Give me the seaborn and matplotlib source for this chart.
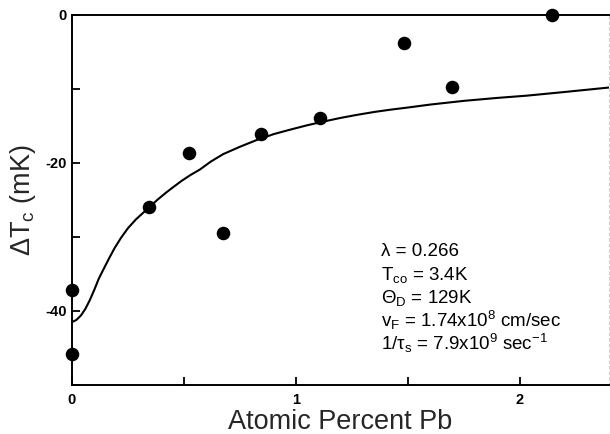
import matplotlib
matplotlib.use("Agg")
import matplotlib.pyplot as plt
import seaborn as sns
import pandas as pd

# Measured data points
pb_percent = [0.0, 0.0, 0.345, 0.524, 0.675, 0.845, 1.107, 1.484, 1.695, 2.143]
delta_tc = [-37.1, -45.8, -26.0, -18.6, -29.4, -16.1, -13.9, -3.8, -9.7, 0.0]

# Theoretical curve
curve_x = [0.0, 0.02, 0.04, 0.06, 0.08, 0.10, 0.12, 0.145, 0.167, 0.19, 0.219, 0.25, 0.286, 0.315,
           0.345, 0.38, 0.42, 0.45, 0.49, 0.53, 0.57, 0.62, 0.675, 0.75, 0.824, 0.9, 0.973,
           1.05, 1.122, 1.2, 1.271, 1.35, 1.42, 1.5, 1.6, 1.75, 1.9, 2.03, 2.2, 2.397]
curve_y = [-41.5, -41.2, -40.6, -39.7, -38.5, -37.1, -35.6, -34.1, -32.8, -31.5, -30.1, -28.8,
           -27.6, -26.8, -26.0, -25.0, -24.0, -23.3, -22.4, -21.6, -20.9, -19.8, -18.8, -17.8,
           -16.9, -16.1, -15.5, -14.9, -14.4, -13.9, -13.5, -13.1, -12.8, -12.5, -12.1, -11.6,
           -11.2, -10.9, -10.4, -9.8]

x_ticks = [0, 0.5, 1, 1.5, 2]
x_ticklabels = ["0", "", "1", "", "2"]
y_ticks = [0, -10, -20, -30, -40, -50]
y_ticklabels = ["0", "", "-20", "", "-40", ""]

param_lines = [
    "λ = 0.266",
    r"T$_{\mathrm{co}}$ = 3.4K",
    r"Θ$_{\mathrm{D}}$ = 129K",
    r"v$_{\mathrm{F}}$ = 1.74x10$^{8}$ cm/sec",
    r"1/τ$_{\mathrm{s}}$ = 7.9x10$^{9}$ sec$^{-1}$",
]

sns.set_style("white")
plt.rcParams["font.family"] = ["Liberation Sans", "DejaVu Sans"]
plt.rcParams["mathtext.fontset"] = "custom"
plt.rcParams["mathtext.rm"] = "Liberation Sans"
plt.rcParams["mathtext.it"] = "Liberation Sans:italic"
plt.rcParams["mathtext.bf"] = "Liberation Sans:bold"

fig = plt.figure(figsize=(6.10, 4.34), dpi=100)
ax = fig.add_axes([72/610, 49/434, 537/610, 370/434])

pts = pd.DataFrame({"x": pb_percent, "y": delta_tc})
crv = pd.DataFrame({"x": curve_x, "y": curve_y})

sns.lineplot(data=crv, x="x", y="y", ax=ax, color="black", linewidth=1.5,
             sort=False, estimator=None)
sns.scatterplot(data=pts, x="x", y="y", ax=ax, color="black", s=95,
                edgecolor="black", linewidth=0, clip_on=False, zorder=5)

ax.set_xlim(0, 2.397)
ax.set_ylim(-50, 0)
ax.set_xticks(x_ticks)
ax.set_xticklabels(x_ticklabels, fontsize=10.5, fontweight="bold")
ax.set_yticks(y_ticks)
ax.set_yticklabels(y_ticklabels, fontsize=10.5, fontweight="bold")
ax.tick_params(bottom=True, left=True, top=False, right=False,
               direction="in", length=6, width=1.3, colors="black")
ax.tick_params(axis="y", pad=4)
ax.tick_params(axis="x", pad=6)

for side in ["left", "bottom", "top"]:
    ax.spines[side].set_visible(True)
    ax.spines[side].set_color("black")
    ax.spines[side].set_linewidth(1.4)
ax.spines["right"].set_color("#cccccc")
ax.spines["right"].set_linewidth(0.8)
ax.spines["right"].set_linestyle((0, (2, 3)))

ax.set_xlabel("Atomic Percent Pb", fontsize=19.5, labelpad=1)
ax.set_ylabel(r"ΔT$_{\mathrm{c}}$ (mK)", fontsize=19.5)
ax.yaxis.set_label_coords(-0.064, 0.5)

y0 = 252
for i, line in enumerate(param_lines):
    fig.text(381/610, 1 - (y0 + i * 22.8) / 434, line, fontsize=13.5,
             ha="left", va="center", color="black")

fig.savefig("out.png", dpi=100)
